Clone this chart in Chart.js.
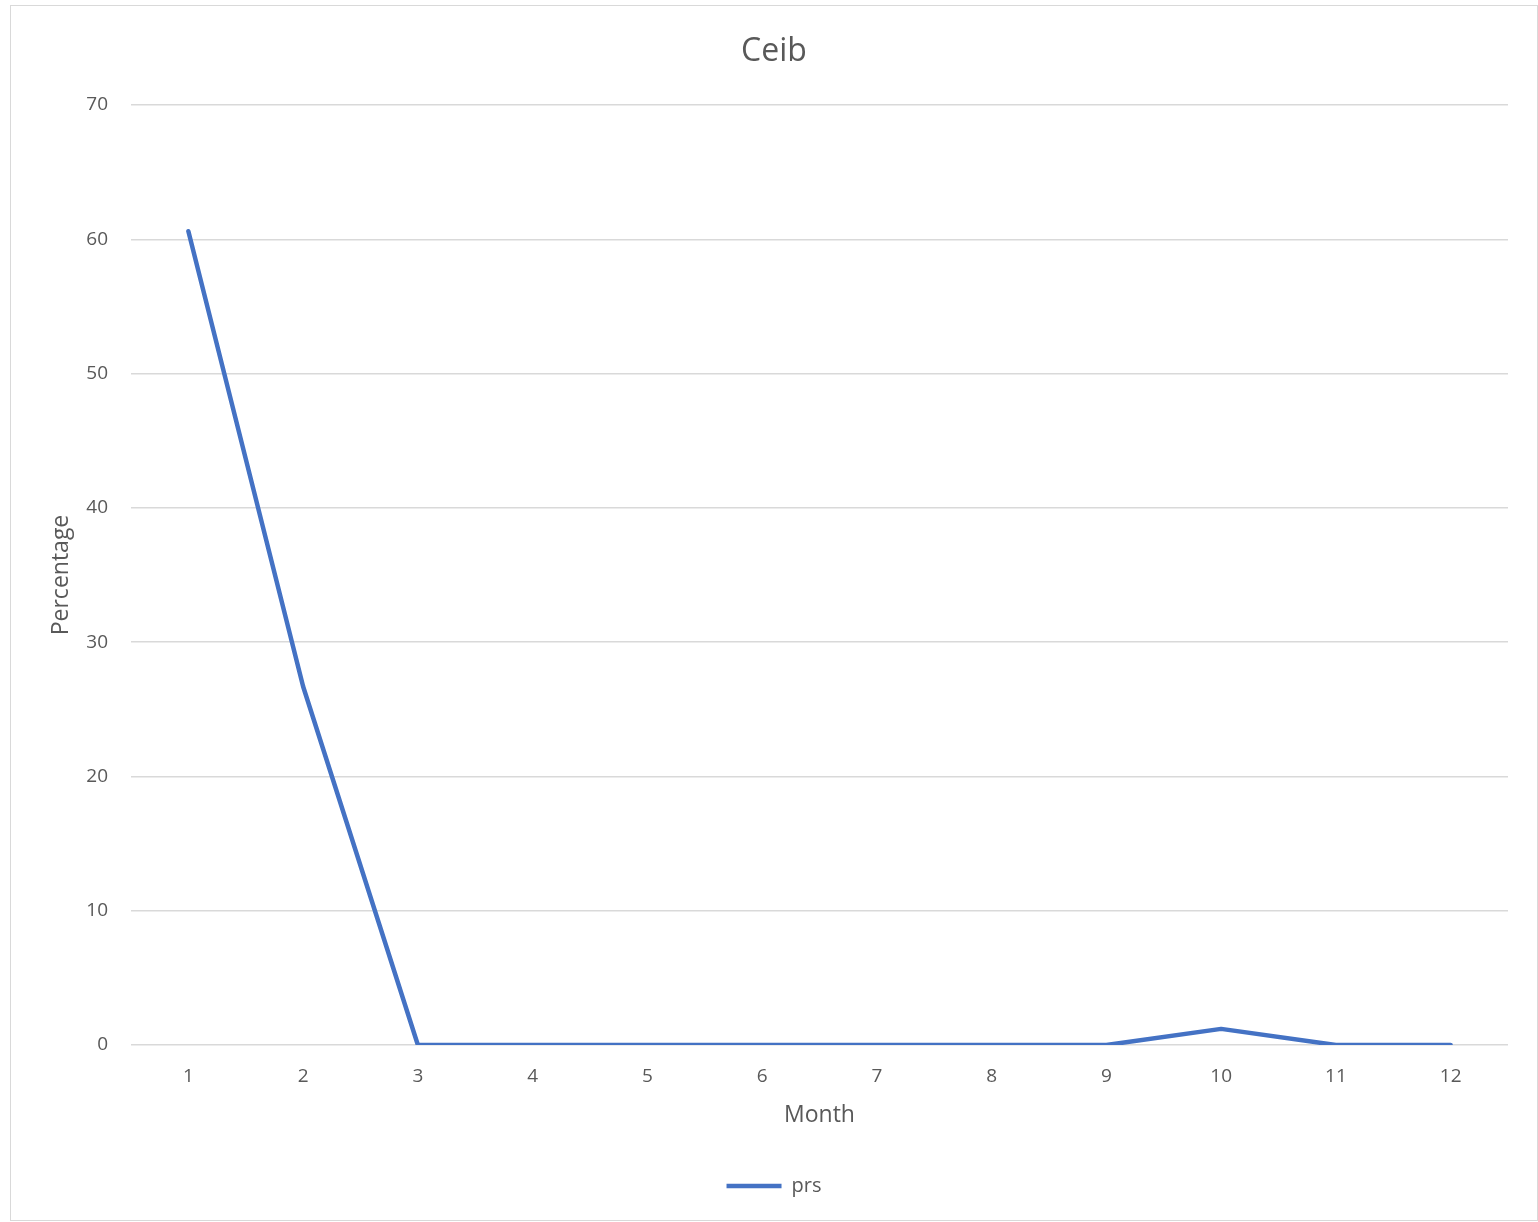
<!DOCTYPE html>
<html>
<head>
<meta charset="utf-8">
<script src="https://cdn.jsdelivr.net/npm/chart.js@4.4.0/dist/chart.umd.min.js"></script>
<style>
  body { margin: 0; background: #fff; }
  #wrap { position: absolute; left: 10px; top: 5px; width: 1526px; height: 1214px; border: 1px solid #d9d9d9; }
</style>
</head>
<body>
<div id="wrap"><canvas id="ceib-chart" width="1526" height="1214"></canvas></div>
<script>
const months = ['1', '2', '3', '4', '5', '6', '7', '8', '9', '10', '11', '12'];
const prsValues = [60.6, 26.7, 0, 0, 0, 0, 0, 0, 0, 1.2, 0, 0];
const yTicks = [0, 10, 20, 30, 40, 50, 60, 70];

const textColor = '#595959';
const gridColor = '#d9d9d9';
const fontFamily = '"Open Sans", "Noto Sans", sans-serif';

const ceibChart = document.getElementById('ceib-chart');

new Chart(ceibChart, {
    type: 'line',
    data: {
        labels: months,
        datasets: [{
            label: 'prs',
            data: prsValues,
            borderColor: '#4472c4',
            backgroundColor: '#4472c4',
            borderWidth: 4.5,
            borderCapStyle: 'round',
            borderJoinStyle: 'round',
            pointRadius: 0,
            tension: 0
        }]
    },
    options: {
        responsive: false,
        animation: false,
        layout: { padding: { top: 0, right: 0, bottom: 14, left: 0 } },
        plugins: {
            title: {
                display: true,
                text: 'Ceib',
                color: textColor,
                font: { family: fontFamily, size: 32, weight: 'normal' },
                padding: { top: 27, bottom: 33.6 }
            },
            legend: {
                position: 'bottom',
                labels: {
                    color: textColor,
                    font: { family: fontFamily, size: 20 },
                    usePointStyle: true,
                    pointStyle: 'line',
                    pointStyleWidth: 55,
                    boxHeight: 10,
                    padding: 10
                }
            },
            tooltip: { enabled: false }
        },
        scales: {
            x: {
                offset: true,
                grid: { display: false, drawTicks: false },
                border: { display: false },
                ticks: {
                    color: textColor,
                    font: { family: fontFamily, size: 19 },
                    padding: 20,
                    maxRotation: 0
                },
                title: {
                    display: true,
                    text: 'Month',
                    color: textColor,
                    font: { family: fontFamily, size: 23 },
                    padding: { top: 0, bottom: 37 }
                },
                // keep the plot area narrower on the right without moving title/legend centre
                afterFit: scale => { scale.height = 121; scale.paddingRight = 29; }
            },
            y: {
                min: 0,
                max: 70,
                afterBuildTicks: scale => { scale.ticks = yTicks.map(v => ({ value: v })); },
                grid: { color: gridColor, lineWidth: 1.5, drawTicks: false },
                border: { display: false },
                ticks: {
                    color: textColor,
                    font: { family: fontFamily, size: 19 },
                    padding: 23
                },
                title: {
                    display: true,
                    text: 'Percentage',
                    color: textColor,
                    font: { family: fontFamily, size: 23 },
                    padding: { top: 37, bottom: 0 }
                },
                afterFit: scale => { scale.width = 120; }
            }
        }
    }
});
</script>
</body>
</html>
